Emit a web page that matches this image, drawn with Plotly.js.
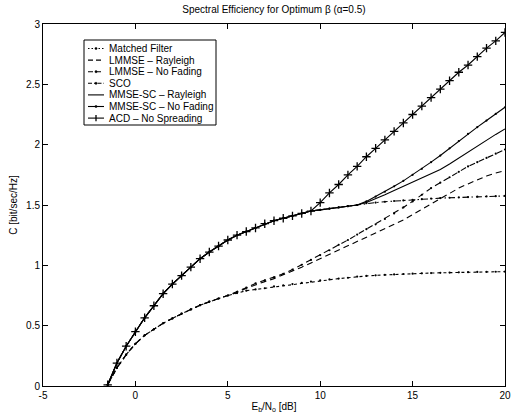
<!DOCTYPE html>
<html><head><meta charset="utf-8">
<script src="https://cdn.plot.ly/plotly-3.0.1.min.js"></script>
<style>html,body{margin:0;padding:0;background:#fff}#chart{width:512px;height:415px}</style>
</head><body><div id="chart"></div>
<script>
const X = [-1.5,-1,-0.5,0,0.5,1,1.5,2,2.5,3,3.5,4,4.5,5,5.5,6,6.5,7,7.5,8,8.5,9,9.5,10,10.5,11,11.5,12,12.5,13,13.5,14,14.5,15,15.5,16,16.5,17,17.5,18,18.5,19,19.5,20];

const ACD = [0.01,0.19,0.33,0.45,0.565,0.665,0.765,0.845,0.915,0.985,1.055,1.11,1.16,1.21,1.25,1.28,1.31,1.345,1.37,1.39,1.41,1.43,1.45,1.52,1.60,1.67,1.75,1.82,1.90,1.97,2.04,2.11,2.18,2.25,2.32,2.39,2.46,2.53,2.60,2.66,2.73,2.80,2.86,2.93];

const MMSE_NF = [0.01,0.19,0.33,0.45,0.565,0.665,0.765,0.845,0.915,0.985,1.055,1.11,1.16,1.21,1.25,1.28,1.31,1.345,1.37,1.39,1.41,1.43,1.45,1.46,1.47,1.48,1.49,1.50,1.53,1.57,1.61,1.655,1.70,1.75,1.80,1.855,1.91,1.97,2.03,2.09,2.145,2.20,2.255,2.31];

const MMSE_R = [0.01,0.19,0.33,0.45,0.565,0.665,0.765,0.845,0.915,0.985,1.055,1.11,1.16,1.21,1.25,1.28,1.31,1.345,1.37,1.39,1.41,1.43,1.45,1.46,1.47,1.48,1.49,1.50,1.52,1.55,1.585,1.62,1.655,1.69,1.72,1.755,1.795,1.84,1.89,1.94,1.99,2.04,2.085,2.13];

const SCO = [0.01,0.19,0.33,0.45,0.565,0.665,0.765,0.845,0.915,0.985,1.055,1.11,1.16,1.21,1.25,1.28,1.31,1.345,1.37,1.39,1.41,1.43,1.45,1.46,1.47,1.48,1.49,1.50,1.515,1.52,1.527,1.533,1.538,1.543,1.548,1.553,1.557,1.56,1.563,1.566,1.569,1.571,1.573,1.575];

const LMMSE_NF = [0.01,0.15,0.26,0.35,0.42,0.47,0.52,0.56,0.60,0.635,0.67,0.70,0.725,0.75,0.78,0.815,0.85,0.875,0.90,0.93,0.965,1.005,1.045,1.085,1.125,1.17,1.21,1.255,1.30,1.34,1.385,1.43,1.48,1.53,1.585,1.64,1.685,1.73,1.775,1.82,1.855,1.89,1.925,1.96];

const LMMSE_R = [0.01,0.15,0.26,0.35,0.42,0.47,0.52,0.56,0.60,0.635,0.67,0.70,0.725,0.75,0.775,0.81,0.84,0.865,0.89,0.92,0.95,0.985,1.02,1.055,1.09,1.125,1.165,1.20,1.235,1.265,1.30,1.335,1.375,1.42,1.465,1.51,1.555,1.60,1.64,1.675,1.71,1.74,1.765,1.785];

const MF = [0.01,0.15,0.26,0.35,0.42,0.47,0.52,0.56,0.60,0.635,0.67,0.70,0.725,0.75,0.77,0.79,0.80,0.81,0.825,0.835,0.845,0.855,0.865,0.875,0.883,0.89,0.897,0.907,0.912,0.917,0.921,0.925,0.928,0.931,0.934,0.936,0.938,0.94,0.942,0.943,0.945,0.946,0.947,0.948];

const NAMES = ['Matched Filter','LMMSE – Rayleigh','LMMSE – No Fading','SCO','MMSE-SC – Rayleigh','MMSE-SC – No Fading','ACD – No Spreading'];
const XTICKS = [-5,0,5,10,15,20];
const YTICKS = [0,0.5,1,1.5,2,2.5,3];
const YTICKTEXT = ['0','0.5','1','1.5','2','2.5','3'];

const K = '#000';
const DOT = 'dot', DASH = '6px,4px', DASHDOT = '6px,3px,1.5px,3px';
const SERIES = [
  {y:MF,       dash:DOT,     mk:'dot'},
  {y:LMMSE_R,  dash:DASH,    mk:null},
  {y:LMMSE_NF, dash:DASH,    mk:'dot'},
  {y:SCO,      dash:DASHDOT, mk:'dot'},
  {y:MMSE_R,   dash:'solid', mk:null},
  {y:MMSE_NF,  dash:'solid', mk:'dot'},
  {y:ACD,      dash:'solid', mk:'plus'}
];

const traces = SERIES.map((s,i) => {
  const t = {x:X, y:s.y, name:NAMES[i], mode: s.mk ? 'lines+markers' : 'lines',
             line:{color:K, width:1.1, dash:s.dash}, showlegend:false};
  if (s.mk === 'dot') t.marker = {symbol:'circle', size:2.2, color:K};
  if (s.mk === 'plus') t.marker = {symbol:'cross-thin', size:6, color:K, line:{color:K, width:1.3}};
  return t;
});

// custom legend (MATLAB style), placed in pixel terms of the 512x415 figure
const PL = 43, PR = 505, PT = 24, PB = 386;
const px = p => (p - PL) / (PR - PL);
const py = p => (PB - p) / (PB - PT);
const F = 'Liberation Sans, Arial, sans-serif';
const shapes = [];
const annotations = [];
shapes.push({type:'rect', xref:'paper', yref:'paper', x0:px(84), x1:px(216), y0:py(125), y1:py(40),
             line:{color:K, width:1}, fillcolor:'#fff', layer:'above'});
const L0 = 48.5, DY = 11.6;
const LEG_DASH = {dot:'1.5px,2px'};
LEG_DASH[DASH] = '5px,3px';
LEG_DASH[DASHDOT] = '4px,2px,1.5px,2px';
LEG_DASH['solid'] = 'solid';
SERIES.forEach((s,i) => {
  const yy = L0 + i*DY;
  shapes.push({type:'line', xref:'paper', yref:'paper', x0:px(88), x1:px(104), y0:py(yy), y1:py(yy),
               line:{color:K, width:1.1, dash:LEG_DASH[s.dash]}, layer:'above'});
  if (s.mk === 'dot') {
    shapes.push({type:'circle', xref:'paper', yref:'paper', x0:px(94.9), x1:px(97.1), y0:py(yy+1.1), y1:py(yy-1.1),
                 line:{color:K, width:0.5}, fillcolor:K, layer:'above'});
  }
  if (s.mk === 'plus') {
    shapes.push({type:'line', xref:'paper', yref:'paper', x0:px(96), x1:px(96), y0:py(yy+3.2), y1:py(yy-3.2),
                 line:{color:K, width:1.3}, layer:'above'});
  }
  annotations.push({xref:'paper', yref:'paper', x:px(106.5), y:py(yy), xanchor:'left', yanchor:'middle',
                    text:NAMES[i], showarrow:false, font:{family:F, size:10, color:K}});
});

const layout = {
  width:512, height:415,
  margin:{l:43, r:7, t:24, b:29},
  paper_bgcolor:'#fff', plot_bgcolor:'#fff',
  font:{family:F, size:10, color:K},
  title:{text:'Spectral Efficiency for Optimum β (α=0.5)', font:{family:F,size:10,color:K}, x:0.535, xanchor:'center', y:0.978, yanchor:'middle'},
  xaxis:{range:[-5,20], tickvals:XTICKS, ticktext:XTICKS.map(String), ticks:'inside', ticklen:5, tickcolor:K,
         showline:true, linecolor:K, linewidth:1, mirror:'ticks', showgrid:false, zeroline:false,
         tickfont:{family:F,size:10,color:K},
         title:{text:'E<sub>b</sub>/N<sub>o</sub> [dB]', font:{family:F,size:10,color:K}, standoff:2}},
  yaxis:{range:[0,3], tickvals:YTICKS, ticktext:YTICKTEXT, ticks:'inside', ticklen:5, tickcolor:K,
         showline:true, linecolor:K, linewidth:1, mirror:'ticks', showgrid:false, zeroline:false,
         tickfont:{family:F,size:10,color:K},
         title:{text:'C [bit/sec/Hz]', font:{family:F,size:10,color:K}, standoff:6}},
  showlegend:false,
  shapes:shapes,
  annotations:annotations
};
Plotly.newPlot('chart', traces, layout, {displayModeBar:false, staticPlot:true});
</script></body></html>
